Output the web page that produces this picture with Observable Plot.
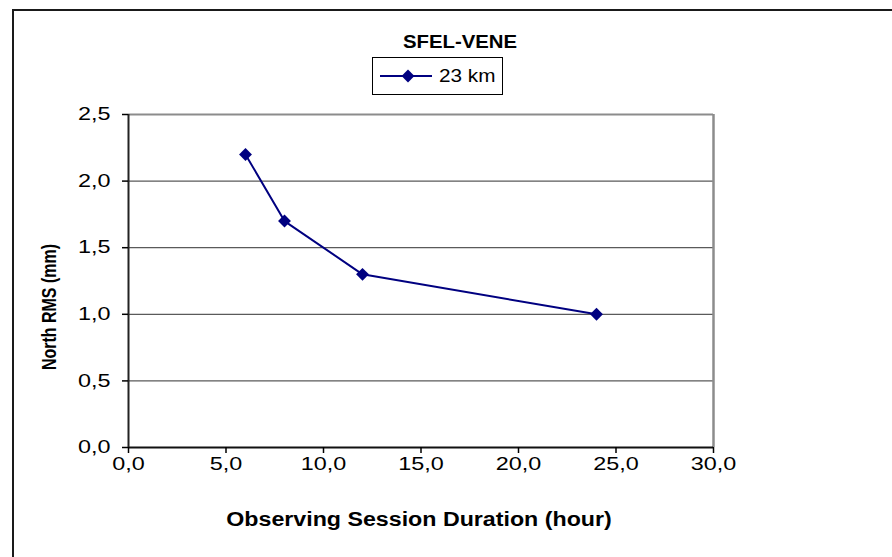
<!DOCTYPE html>
<html>
<head>
<meta charset="utf-8">
<script src="https://cdn.jsdelivr.net/npm/d3@7"></script>
<script src="https://cdn.jsdelivr.net/npm/@observablehq/plot@0.6"></script>
<style>
  html, body { margin: 0; padding: 0; background: #fff; }
  #chart { position: relative; width: 892px; height: 557px; overflow: hidden;
           font-family: "Liberation Sans", Arial, sans-serif; color: #000; background: #fff; }
  #frame { position: absolute; left: 12px; top: 9px; width: 1000px; height: 700px;
           border: 2px solid #1a1a1a; box-sizing: border-box; }
  #plot { position: absolute; left: 0; top: 0; }
  .lbl { position: absolute; white-space: nowrap; line-height: 1; }
  #title { left: 460px; top: 41.5px; font-size: 18px; font-weight: bold;
           transform: translate(-50%, -50%) scaleX(1.13); }
  #xtitle { left: 419px; top: 520px; font-size: 19.5px; font-weight: bold;
            transform: translate(-50%, -50%) scaleX(1.19); }
  #ytitle { left: 50px; top: 307px; font-size: 16px; font-weight: bold;
            transform: translate(-50%, -50%) rotate(-90deg) scaleY(1.28); }
  #legend { position: absolute; left: 372px; top: 57px; width: 131px; height: 38px;
            border: 1px solid #000; box-sizing: border-box; background: #fff; }
  #legend svg { position: absolute; left: 7px; top: 0; }
  #legend .name { position: absolute; left: 66px; top: 18px; font-size: 18.5px;
                  transform: translate(0, -50%) scaleX(1.12); transform-origin: left center;
                  white-space: nowrap; line-height: 1; }
</style>
</head>
<body>
<div id="chart">
  <div id="frame"></div>
  <div id="plot"></div>
  <div id="title" class="lbl"></div>
  <div id="legend"></div>
  <div id="xtitle" class="lbl"></div>
  <div id="ytitle" class="lbl"></div>
</div>
<script>
// Session duration (hours) and the resulting north-component RMS (mm)
const duration = [6, 8, 12, 24];
const northRms = [2.2, 1.7, 1.3, 1.0];
const seriesName = "23 km";
const chartTitle = "SFEL-VENE";
const xTitle = "Observing Session Duration (hour)";
const yTitle = "North RMS (mm)";
const xTicks = [0, 5, 10, 15, 20, 25, 30];
const yTicks = [0, 0.5, 1.0, 1.5, 2.0, 2.5];

const lineColor = "#000080";
const points = duration.map((d, i) => ({duration: d, rms: northRms[i]}));
const fmt = d => d.toFixed(1).replace(".", ",");

const plot = Plot.plot({
  width: 892,
  height: 557,
  marginLeft: 128,
  marginRight: 179,
  marginTop: 114,
  marginBottom: 110,
  style: {fontFamily: "'Liberation Sans', Arial, sans-serif", fontSize: "18px", color: "#000", background: "transparent", overflow: "visible"},
  x: {domain: [xTicks[0], xTicks[xTicks.length - 1]]},
  y: {domain: [yTicks[0], yTicks[yTicks.length - 1]]},
  marks: [
    // horizontal gridlines between the axis and the top border
    Plot.ruleY(yTicks.slice(1, -1), {stroke: "#5a5a5a", strokeWidth: 1.2}),
    // plot-area border: grey top and right, dark axis lines left and bottom
    Plot.ruleY([yTicks[yTicks.length - 1]], {stroke: "#8c8c8c", strokeWidth: 2}),
    Plot.ruleX([xTicks[xTicks.length - 1]], {stroke: "#8c8c8c", strokeWidth: 2.5}),
    Plot.ruleY([yTicks[0]], {stroke: "#111", strokeWidth: 2}),
    Plot.ruleX([xTicks[0]], {stroke: "#222", strokeWidth: 2}),
    Plot.line(points, {x: "duration", y: "rms", stroke: lineColor, strokeWidth: 2}),
    Plot.dot(points, {x: "duration", y: "rms", symbol: "diamond2", r: 5.8, fill: lineColor, stroke: "none"}),
    Plot.axisX(xTicks, {tickFormat: fmt, tickSize: 6, tickPadding: 4, label: null, strokeWidth: 1.5, fontSize: 18}),
    Plot.axisY(yTicks, {tickFormat: fmt, tickSize: 6, tickPadding: 12, label: null, strokeWidth: 1.5, fontSize: 18})
  ]
});

// widen tick labels horizontally around their anchor points
const stretch = 1.3;
plot.querySelectorAll("text").forEach(t => {
  const x = parseFloat(t.getAttribute("x")) || 0;
  const tr = t.getAttribute("transform") || "";
  t.setAttribute("transform", `${tr} translate(${x},0) scale(${stretch},1) translate(${-x},0)`);
});
document.getElementById("plot").appendChild(plot);

document.getElementById("title").textContent = chartTitle;
document.getElementById("xtitle").textContent = xTitle;
document.getElementById("ytitle").textContent = yTitle;

// legend: line swatch with a diamond marker, then the series name
const legend = d3.select("#legend");
const sw = legend.append("svg").attr("width", 56).attr("height", 36);
sw.append("line").attr("x1", 0).attr("x2", 52).attr("y1", 18).attr("y2", 18)
  .attr("stroke", lineColor).attr("stroke-width", 2);
sw.append("path").attr("transform", "translate(28,18)")
  .attr("d", d3.symbol(d3.symbolDiamond2, 5.8 * 5.8 * Math.PI)())
  .attr("fill", lineColor);
legend.append("div").attr("class", "name").text(seriesName);
</script>
</body>
</html>
